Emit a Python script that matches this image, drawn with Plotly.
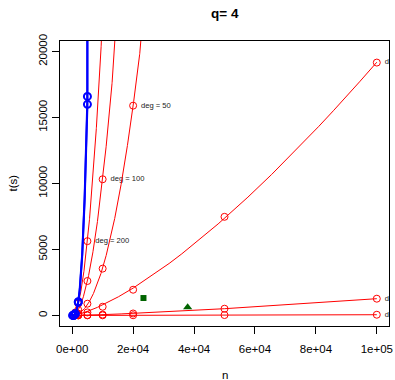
import numpy as np
import plotly.graph_objects as go

FONT = "Liberation Sans, Arial, Helvetica, sans-serif"

# ---- data ----
red_labels = ["deg = 200", "deg = 100", "deg = 50", "deg = 20", "deg = 5", "deg = 2"]
n_deg200 = [1000, 2000, 5000]
t_deg200 = [220, 900, 5630]
n_deg100 = [1000, 2000, 5000, 10000]
t_deg100 = [105, 420, 2610, 10320]
n_deg50 = [1000, 2000, 5000, 10000, 20000]
t_deg50 = [40, 140, 890, 3550, 15900]
n_deg20 = [1000, 2000, 5000, 10000, 20000, 50000, 100000]
t_deg20 = [21, 60, 230, 660, 1950, 7475, 19165]
n_deg5 = [1000, 2000, 5000, 10000, 20000, 50000, 100000]
t_deg5 = [5, 12, 30, 65, 150, 510, 1270]
n_deg2 = [1000, 2000, 5000, 10000, 20000, 50000, 100000]
t_deg2 = [1, 2, 4, 8, 15, 30, 55]

n_blue_a = [200, 500, 1000, 2000, 5000]
t_blue_a = [1, 17, 130, 1040, 16600]
n_blue_b = [200, 500, 1000, 2000, 5000]
t_blue_b = [1, 15, 125, 1000, 16000]

n_green_square = [23400]
t_green_square = [1320]
n_green_triangle = [37900]
t_green_triangle = [630]

x_ticks = [0, 20000, 40000, 60000, 80000, 100000]
x_ticktext = ["0e+00", "2e+04", "4e+04", "6e+04", "8e+04", "1e+05"]
y_ticks = [0, 5000, 10000, 15000, 20000]
y_ticktext = ["0", "5000", "10000", "15000", "20000"]

red_series = [
    (n_deg200, t_deg200),
    (n_deg100, t_deg100),
    (n_deg50, t_deg50),
    (n_deg20, t_deg20),
    (n_deg5, t_deg5),
    (n_deg2, t_deg2),
]

grid = np.linspace(1, 100000, 4000)


def power_fit(n, t):
    t_arr = np.asarray(t, dtype=float)
    p, c = np.polyfit(np.log(n), np.log(t_arr), 1, w=t_arr)
    return np.exp(c) * grid ** p


fig = go.Figure()

RED = "#FF0000"
BLUE = "#0000FF"
GREEN = "#006400"

for (n, t), lab in zip(red_series, red_labels):
    fig.add_trace(go.Scatter(x=grid, y=power_fit(n, t), mode="lines",
                             line=dict(color=RED, width=1), hoverinfo="skip"))
    fig.add_trace(go.Scatter(x=n, y=t, mode="markers",
                             marker=dict(symbol="circle-open", size=7,
                                         color=RED, line=dict(width=1, color=RED))))
    fig.add_trace(go.Scatter(x=[n[-1]], y=[t[-1]], mode="markers+text",
                             text=[lab], textposition="middle right",
                             textfont=dict(family=FONT, size=7.6, color="#222222"),
                             marker=dict(size=11, color="rgba(0,0,0,0)"),
                             cliponaxis=True))

for n, t in [(n_blue_a, t_blue_a), (n_blue_b, t_blue_b)]:
    fig.add_trace(go.Scatter(x=grid, y=power_fit(n, t), mode="lines",
                             line=dict(color=BLUE, width=2), hoverinfo="skip"))
    fig.add_trace(go.Scatter(x=n, y=t, mode="markers",
                             marker=dict(symbol="circle-open", size=7,
                                         color=BLUE, line=dict(width=2, color=BLUE))))

fig.add_trace(go.Scatter(x=n_green_square, y=t_green_square, mode="markers",
                         marker=dict(symbol="square", size=6, color=GREEN)))
fig.add_trace(go.Scatter(x=n_green_triangle, y=t_green_triangle, mode="markers",
                         marker=dict(symbol="triangle-up", size=8, color=GREEN)))

axis_common = dict(showgrid=False, zeroline=False, showline=True, mirror=True,
                   linecolor="black", linewidth=1, ticks="outside", ticklen=7,
                   tickcolor="black", tickwidth=1, automargin=False,
                   tickfont=dict(family=FONT, size=11.5, color="black"))

fig.update_layout(
    width=395, height=380,
    margin=dict(l=60, r=6, t=41, b=54, pad=0, autoexpand=False),
    paper_bgcolor="white", plot_bgcolor="white",
    showlegend=False,
    xaxis=dict(range=[-4000, 104000], tickmode="array", tickvals=x_ticks,
               ticktext=x_ticktext, ticklabelstandoff=5, **axis_common),
    yaxis=dict(range=[-800, 20800], tickmode="array", tickvals=y_ticks,
               ticktext=y_ticktext, tickangle=-90, **axis_common),
    annotations=[
        dict(text="<b>q= 4</b>", xref="paper", yref="paper",
             x=(224.5 - 60) / 329, y=1 + (41 - 13.5) / 285,
             xanchor="center", yanchor="middle", showarrow=False,
             font=dict(family=FONT, size=13.5, color="black")),
        dict(text="t(s)", xref="paper", yref="paper",
             x=(12 - 60) / 329, y=0.5, textangle=-90,
             xanchor="center", yanchor="middle", showarrow=False,
             font=dict(family=FONT, size=11.5, color="black")),
        dict(text="n", xref="paper", yref="paper",
             x=0.5, y=-(375 - 326) / 285,
             xanchor="center", yanchor="middle", showarrow=False,
             font=dict(family=FONT, size=11.5, color="black")),
    ],
)

fig.write_html("out.html")
